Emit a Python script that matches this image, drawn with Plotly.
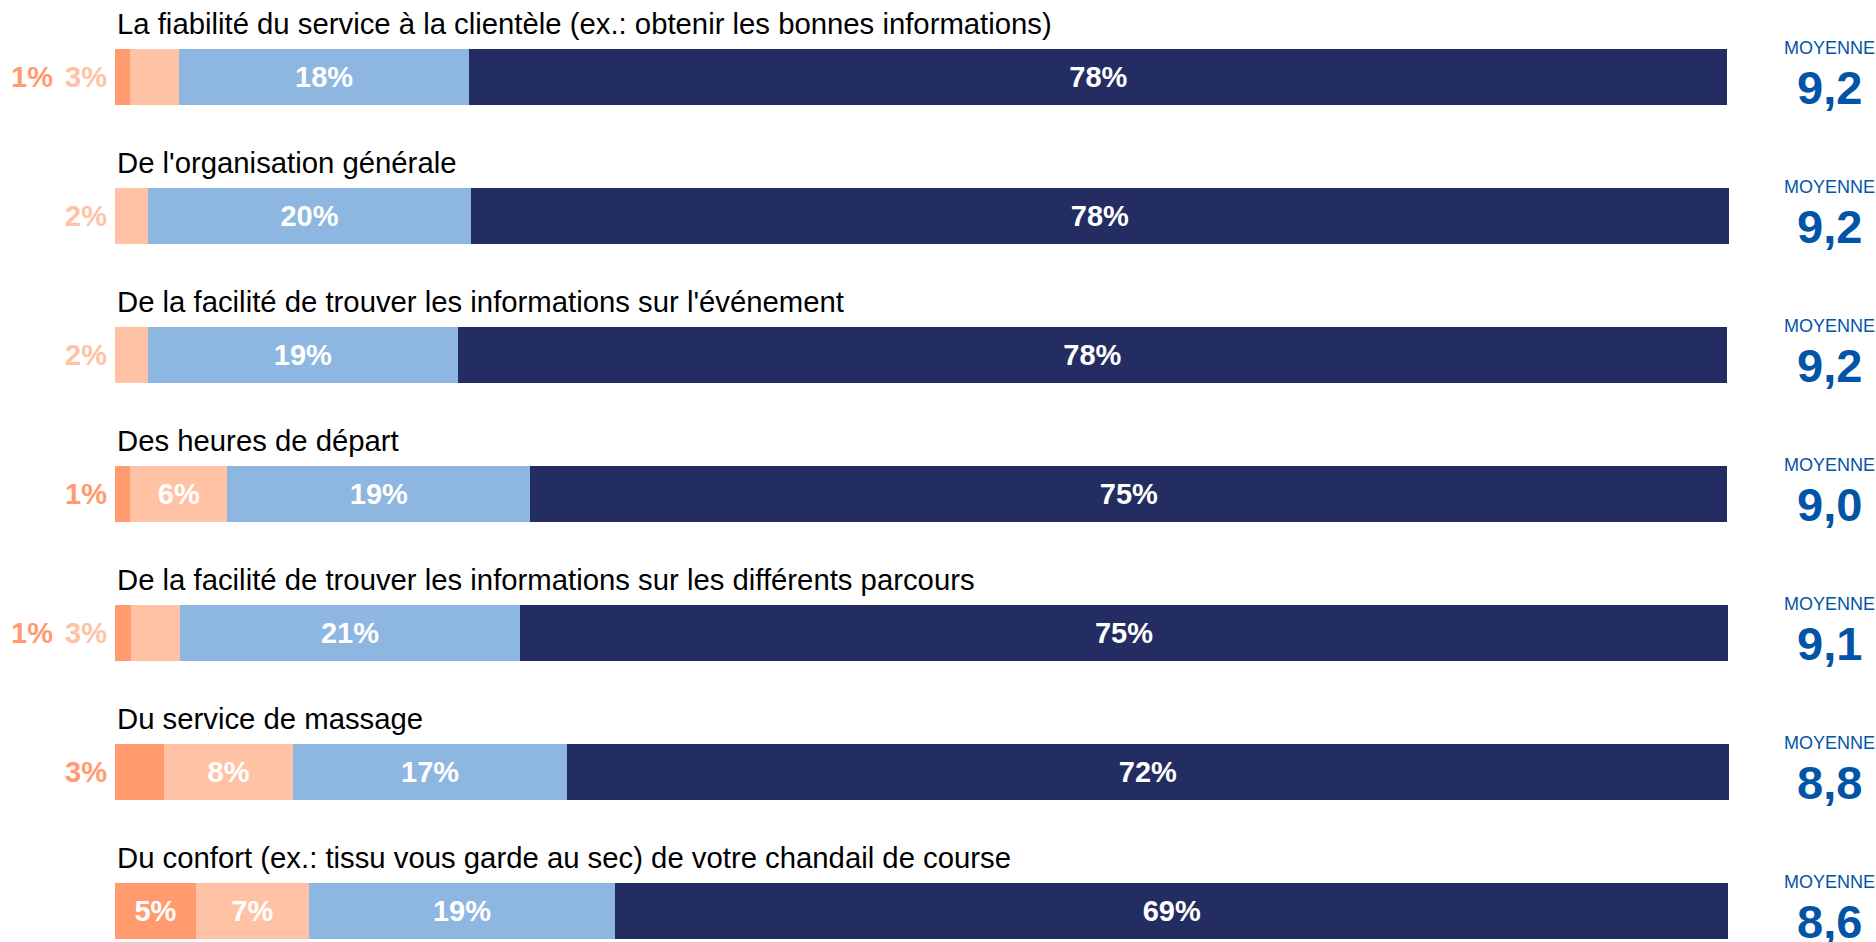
import plotly.graph_objects as go

# Libellés des questions
questions = [
    "La fiabilité du service à la clientèle (ex.: obtenir les bonnes informations)",
    "De l'organisation générale",
    "De la facilité de trouver les informations sur l'événement",
    "Des heures de départ",
    "De la facilité de trouver les informations sur les différents parcours",
    "Du service de massage",
    "Du confort (ex.: tissu vous garde au sec) de votre chandail de course",
]

# Largeurs des segments (%)
seg_tres_insat = [0.93, 0.0, 0.0, 0.96, 1.0, 3.04, 5.02]
seg_insat = [3.04, 2.05, 2.05, 6.0, 3.04, 8.0, 7.0]
seg_sat = [18.0, 20.03, 19.2, 18.8, 21.07, 17.0, 19.0]
seg_tres_sat = [78.0, 77.97, 78.7, 74.2, 74.9, 72.0, 69.0]

# Étiquettes affichées
lab_tres_insat = ["1%", "", "", "1%", "1%", "3%", "5%"]
lab_insat = ["3%", "2%", "2%", "6%", "3%", "8%", "7%"]
lab_sat = ["18%", "20%", "19%", "19%", "21%", "17%", "19%"]
lab_tres_sat = ["78%", "78%", "78%", "75%", "75%", "72%", "69%"]

moyennes = [9.2, 9.2, 9.2, 9.0, 9.1, 8.8, 8.6]

couleurs = ["#FF9B6E", "#FFC2A5", "#8DB6E0", "#232D62"]
BLEU = "#0254A6"
FONT = "Liberation Sans, Arial, sans-serif"

rows = list(range(len(questions)))
segments = [seg_tres_insat, seg_insat, seg_sat, seg_tres_sat]
labels = [lab_tres_insat, lab_insat, lab_sat, lab_tres_sat]

SEUIL = 4.0  # en dessous, l'étiquette passe à gauche de la barre

fig = go.Figure()
for k in range(4):
    txt = []
    for i in rows:
        if k < 2 and segments[k][i] < SEUIL:
            txt.append("")
        else:
            txt.append(labels[k][i])
    fig.add_trace(go.Bar(
        y=rows, x=segments[k], orientation="h", width=0.403,
        marker=dict(color=couleurs[k], line=dict(width=0)),
        text=txt, texttemplate="<b>%{text}</b>",
        textposition="inside", insidetextanchor="middle",
        constraintext="none",
        textfont=dict(family=FONT, size=29, color="white"),
        hoverinfo="skip",
    ))

annotations = []
pos_x = [-0.35, -3.75]
for i in rows:
    annotations.append(dict(
        x=0, y=i - 0.385, xref="x", yref="y", text=questions[i],
        showarrow=False, xanchor="left", yanchor="middle",
        font=dict(family=FONT, size=29.3, color="black"),
    ))
    # étiquettes des petits segments, à gauche
    p = 0
    for k in [1, 0]:
        v = segments[k][i]
        if 0 < v < SEUIL:
            annotations.append(dict(
                x=pos_x[p], y=i, xref="x", yref="y",
                text="<b>" + labels[k][i] + "</b>",
                showarrow=False, xanchor="right", yanchor="middle",
                font=dict(family=FONT, size=29, color=couleurs[k]),
            ))
            p += 1
    annotations.append(dict(
        x=0.975, y=i - 0.212, xref="paper", yref="y", text="MOYENNE",
        showarrow=False, xanchor="center", yanchor="middle",
        font=dict(family=FONT, size=18, color=BLEU),
    ))
    annotations.append(dict(
        x=0.975, y=i + 0.076, xref="paper", yref="y",
        text="<b>" + f"{moyennes[i]:.1f}".replace(".", ",") + "</b>",
        showarrow=False, xanchor="center", yanchor="middle",
        font=dict(family=FONT, size=47, color=BLEU),
    ))

fig.update_layout(
    width=1876, height=942,
    margin=dict(l=0, r=0, t=0, b=0),
    barmode="stack", showlegend=False,
    paper_bgcolor="white", plot_bgcolor="white",
    xaxis=dict(range=[-7.13, 109.18], visible=False, fixedrange=True),
    yaxis=dict(range=[6.223, -0.554], visible=False, fixedrange=True),
    annotations=annotations,
)

# pas de marge de page pour que la figure occupe toute la fenêtre
fig.write_html("out.html", config={"displayModeBar": False},
               post_script="document.body.style.margin='0';")
